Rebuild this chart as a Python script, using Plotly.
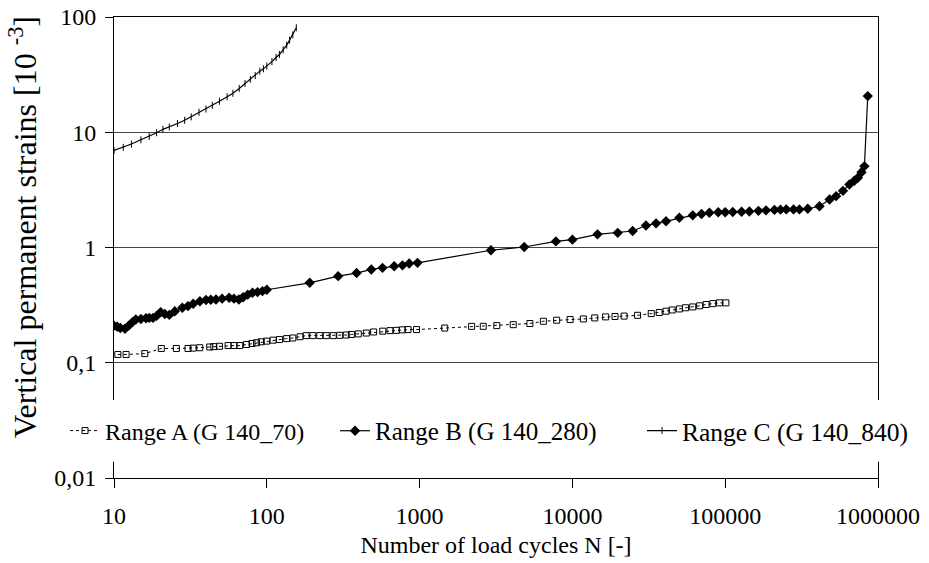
import plotly.graph_objects as go

# ---- data ----
a_n = [10.6, 12, 15.9, 20.4, 25.6, 30.5, 33, 36.4, 42.3, 45, 49, 55.8, 61, 66.5, 73.7, 80, 85.6, 92, 99.7,
       110, 121, 135, 148, 165, 181, 200, 222, 245, 272, 300, 331, 358, 397, 448, 500, 574, 640, 704, 770,
       840, 955, 1460, 2190, 2610, 3200, 4100, 5270, 6460, 7890, 9660, 11800, 14000, 16500, 19000, 21800,
       26700, 32800, 37000, 41000, 45000, 50100, 55000, 61300, 68000, 75000, 83000, 91700, 101000]
a_eps = [0.118, 0.118, 0.12, 0.133, 0.133, 0.133, 0.134, 0.135, 0.137, 0.138, 0.139, 0.141, 0.141, 0.141,
         0.144, 0.147, 0.149, 0.152, 0.154, 0.157, 0.159, 0.162, 0.164, 0.168, 0.172, 0.172, 0.172, 0.172,
         0.172, 0.173, 0.174, 0.176, 0.178, 0.181, 0.185, 0.188, 0.19, 0.191, 0.193, 0.194, 0.194, 0.2,
         0.207, 0.207, 0.21, 0.214, 0.219, 0.229, 0.234, 0.237, 0.24, 0.245, 0.25, 0.252, 0.254, 0.258,
         0.267, 0.273, 0.28, 0.287, 0.293, 0.3, 0.305, 0.312, 0.32, 0.326, 0.331, 0.331]

b_n = [10, 10.5, 11, 11.8, 12.5, 13.2, 13.9, 15, 16.2, 17, 18, 19, 20.2, 21.5, 23, 25, 28, 30.5, 33, 36.5,
       40, 43, 46.5, 51, 56.7, 61, 65.7, 70, 75, 80.6, 87, 93.7, 100, 191, 293, 387, 483, 572, 682, 773,
       855, 969, 2930, 4840, 7800, 10000, 14600, 19800, 24800, 30300, 35300, 41000, 50100, 61300, 70000,
       78800, 90000, 100000, 112000, 128000, 144000, 165000, 185000, 210000, 230000, 251000, 280000,
       306000, 347000, 414000, 482000, 532000, 590000, 650000, 700000, 738000, 780000, 815000, 857000]
b_eps = [0.21, 0.205, 0.2, 0.197, 0.21, 0.225, 0.237, 0.24, 0.243, 0.245, 0.245, 0.255, 0.275, 0.265, 0.26,
         0.28, 0.3, 0.31, 0.325, 0.342, 0.35, 0.352, 0.354, 0.36, 0.366, 0.36, 0.354, 0.37, 0.39, 0.405,
         0.41, 0.418, 0.43, 0.494, 0.564, 0.6, 0.645, 0.666, 0.688, 0.70, 0.726, 0.736, 0.947, 1.01, 1.13,
         1.17, 1.3, 1.34, 1.39, 1.55, 1.62, 1.69, 1.81, 1.9, 1.95, 2.0, 2.02, 2.02, 2.03, 2.04, 2.05, 2.08,
         2.1, 2.12, 2.13, 2.14, 2.14, 2.14, 2.17, 2.28, 2.61, 2.79, 3.1, 3.52, 3.8, 4.02, 4.5, 5.08, 20.6]

c_n = [10, 11.5, 13, 15, 17, 19, 20.9, 23, 26, 29, 32, 36, 40, 44, 49, 55, 60, 66, 72, 78, 84, 90, 95,
       100, 108, 115, 121, 128, 135, 141, 148, 156]
c_eps = [6.95, 7.4, 7.9, 8.6, 9.2, 9.9, 10.6, 11.1, 11.9, 12.7, 13.6, 14.9, 15.9, 17.1, 18.6, 20.3, 21.8,
         24.0, 26.5, 28.8, 31.0, 33.9, 35.5, 37.5, 41, 44.5, 47.3, 52, 57, 63, 70, 80.7]

x_ticks = [10, 100, 1000, 10000, 100000, 1000000]
x_ticktext = ["10", "100", "1000", "10000", "100000", "1000000"]
y_ticks = [0.01, 0.1, 1, 10, 100]
y_ticktext = ["0,01", "0,1", "1", "10", "100"]

FONT = "Liberation Serif"

fig = go.Figure()
fig.add_trace(go.Scatter(
    x=a_n, y=a_eps, mode="lines+markers", name="Range A (G 140_70)", legend="legend",
    line=dict(color="black", width=1, dash="dot"),
    marker=dict(symbol="square-open", size=6, color="black", line=dict(width=1, color="black"))))
fig.add_trace(go.Scatter(
    x=b_n, y=b_eps, mode="lines+markers", name="Range B (G 140_280)", legend="legend2",
    line=dict(color="black", width=1.2),
    marker=dict(symbol="diamond", size=8, color="black")))
fig.add_trace(go.Scatter(
    x=c_n, y=c_eps, mode="lines+markers", name="Range C (G 140_840)", legend="legend3",
    line=dict(color="black", width=1.2),
    marker=dict(symbol="line-ns-open", size=5, color="black", line=dict(width=1, color="black"))))

# white band behind legend (interrupts axis lines like the original)
fig.add_shape(type="rect", xref="paper", yref="paper", x0=-0.084, x1=1.06, y0=0.035, y1=0.169,
              fillcolor="white", line=dict(width=0), layer="above")


def leg(x, size):
    return dict(orientation="h", xanchor="left", x=x, y=0.102, yanchor="middle",
                bgcolor="rgba(0,0,0,0)", font=dict(family=FONT, size=size, color="black"))


fig.update_layout(
    width=929, height=563,
    margin=dict(l=114, r=51, t=17, b=85),
    paper_bgcolor="white", plot_bgcolor="white",
    font=dict(family=FONT, color="black", size=22),
    showlegend=True,
    legend=leg(-0.0641, 24),
    legend2=leg(0.2893, 25),
    legend3=leg(0.6911, 25.5),
    annotations=[dict(text="Vertical permanent strains [10 <sup>-3</sup>]", xref="paper", yref="paper",
                      x=-0.12, y=0.545, xanchor="center", yanchor="middle", textangle=-90,
                      showarrow=False, font=dict(family=FONT, size=32, color="black"))],
)
fig.update_xaxes(type="log", range=[1, 6], tickvals=x_ticks, ticktext=x_ticktext, automargin=False,
                 showline=True, linecolor="black", linewidth=1, mirror=True,
                 ticks="outside", ticklen=9, tickcolor="black", showgrid=False, zeroline=False,
                 tickfont=dict(family=FONT, size=24), ticklabelstandoff=7,
                 title=dict(text="Number of load cycles N [-]", font=dict(family=FONT, size=24), standoff=8))
fig.update_yaxes(type="log", range=[-2, 2], tickvals=y_ticks, ticktext=y_ticktext, automargin=False,
                 showline=True, linecolor="black", linewidth=1, mirror=True,
                 ticks="outside", ticklen=8, tickcolor="black",
                 showgrid=True, gridcolor="#444", gridwidth=1, zeroline=False,
                 tickfont=dict(family=FONT, size=24), ticklabelstandoff=4)

fig.write_html("out.html")
